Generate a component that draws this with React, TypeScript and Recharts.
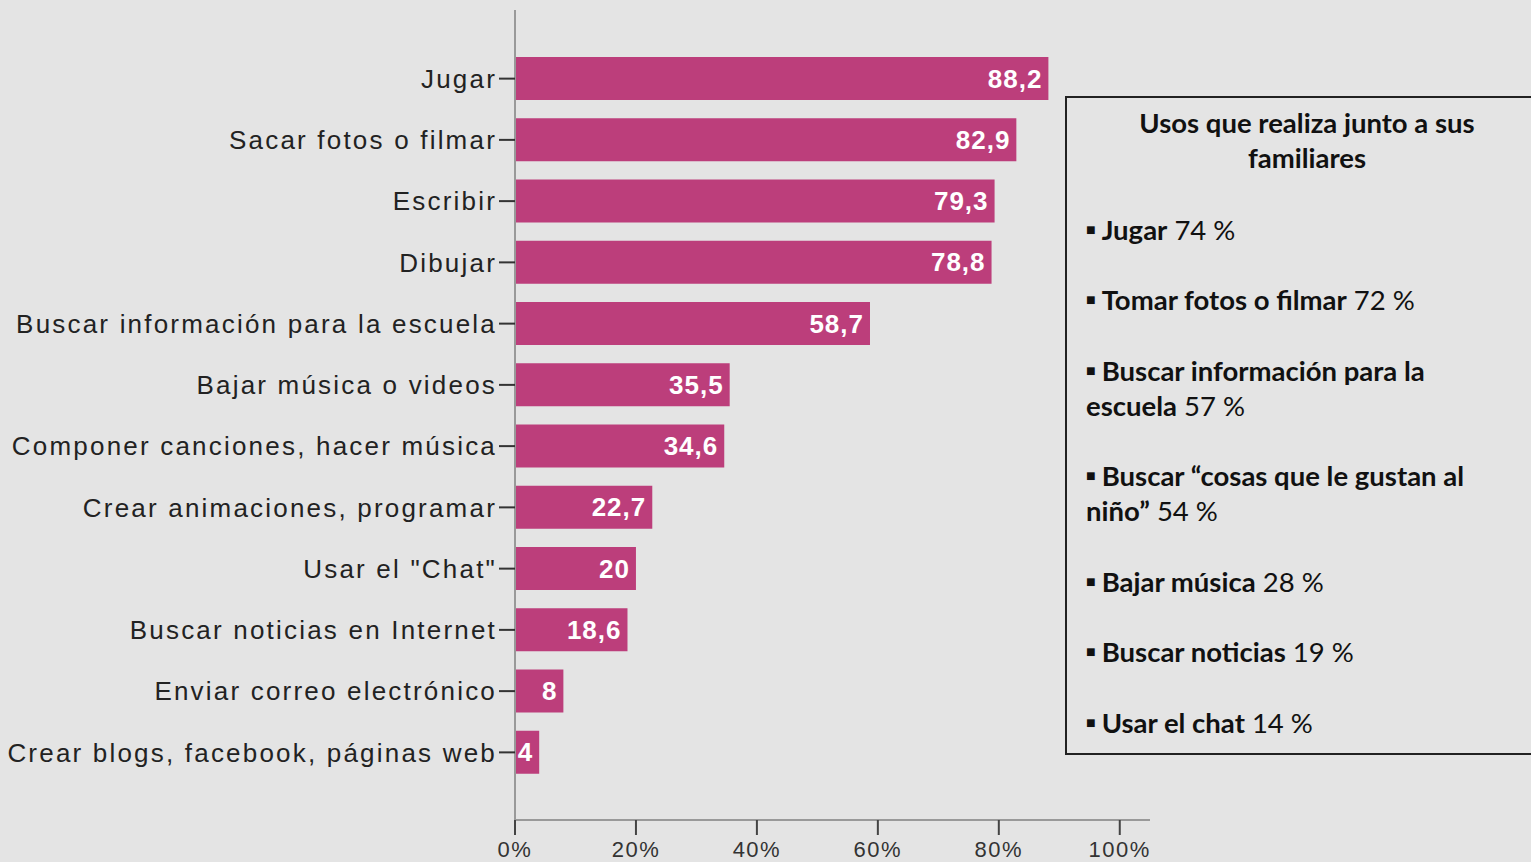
import React from 'react';
import { BarChart, Bar, XAxis, YAxis, LabelList } from 'recharts';

// Usos de la computadora (%)
const categories = [
  'Jugar',
  'Sacar fotos o filmar',
  'Escribir',
  'Dibujar',
  'Buscar información para la escuela',
  'Bajar música o videos',
  'Componer canciones, hacer música',
  'Crear animaciones, programar',
  'Usar el "Chat"',
  'Buscar noticias en Internet',
  'Enviar correo electrónico',
  'Crear blogs, facebook, páginas web',
];
const values = [88.2, 82.9, 79.3, 78.8, 58.7, 35.5, 34.6, 22.7, 20, 18.6, 8, 4];
const xTicks = [0, 20, 40, 60, 80, 100];

// Usos que realiza junto a sus familiares
const familyUses = [
  ['Jugar'],
  ['Tomar fotos o filmar'],
  ['Buscar información para la', 'escuela'],
  ['Buscar “cosas que le gustan al', 'niño”'],
  ['Bajar música'],
  ['Buscar noticias'],
  ['Usar el chat'],
];
const familyValues = [74, 72, 57, 54, 28, 19, 14];

const data = categories.map((name, i) => ({ name, value: values[i] }));

const BG = '#e4e4e4';
const BAR = '#bc3e7b';

const FamilyBox = () => {
  const tops = [230, 300, 371, 476, 582, 652, 723];
  return (
    <div
      style={{
        position: 'absolute',
        left: 1065,
        top: 96,
        width: 480,
        height: 659,
        border: '2px solid #222',
        boxSizing: 'border-box',
        fontFamily: 'Lato, "Open Sans", sans-serif',
        color: '#111',
      }}
    >
      <div
        style={{
          position: 'absolute',
          left: 0,
          top: 7,
          width: 480,
          textAlign: 'center',
          fontWeight: 700,
          fontSize: 27.5,
          lineHeight: '35px',
        }}
      >
        Usos que realiza junto a sus
        <br />
        familiares
      </div>
      {familyUses.map((lines, i) => (
        <div
          key={i}
          style={{
            position: 'absolute',
            left: 19,
            top: tops[i] - 96 - 21,
            fontSize: 27.5,
            lineHeight: '35px',
            whiteSpace: 'nowrap',
          }}
        >
          <span style={{ fontSize: 16, verticalAlign: 5, marginRight: 6 }}>■</span>
          <b>{lines[0]}</b>
          {lines.length > 1 ? (
            <>
              <br />
              <b>{lines[1]}</b>
            </>
          ) : null}{' '}
          {familyValues[i]} %
        </div>
      ))}
    </div>
  );
};

const fmt = (v: any) => String(v).replace('.', ',');

export default function App() {
  return (
    <div
      style={{
        position: 'fixed',
        left: 0,
        top: 0,
        width: 1531,
        height: 862,
        background: BG,
        overflow: 'hidden',
      }}
    >
      <BarChart
        width={1531}
        height={862}
        data={data}
        layout="vertical"
        margin={{ top: 10, right: 381, bottom: 0, left: 0 }}
      >
        <XAxis
          type="number"
          domain={[0, 105]}
          ticks={xTicks}
          tickFormatter={(v) => `${v}%`}
          height={42}
          axisLine={{ stroke: '#999', strokeWidth: 2 }}
          tickLine={{ stroke: '#444', strokeWidth: 2 }}
          tickSize={15}
          tickMargin={6}
          tick={{
            fill: '#333',
            fontSize: 22,
            fontFamily: 'Liberation Sans, Arial, sans-serif',
            letterSpacing: 1.5,
          }}
          interval={0}
        />
        <YAxis
          type="category"
          dataKey="name"
          width={515}
          padding={{ top: 38, bottom: 37 }}
          axisLine={{ stroke: '#999', strokeWidth: 2 }}
          tickLine={{ stroke: '#333', strokeWidth: 2 }}
          tickSize={16}
          tickMargin={2}
          interval={0}
          tick={{
            fill: '#222',
            fontSize: 26,
            fontFamily: 'Liberation Sans, Arial, sans-serif',
            letterSpacing: 2.2,
          }}
        />
        <Bar dataKey="value" fill={BAR} barSize={43} isAnimationActive={false}>
          <LabelList
            dataKey="value"
            position="insideRight"
            formatter={fmt}
            fill="#fff"
            fontSize={26}
            fontWeight={700}
            letterSpacing={1}
            fontFamily="Liberation Sans, Arial, sans-serif"
            offset={6}
          />
        </Bar>
      </BarChart>
      <FamilyBox />
    </div>
  );
}
